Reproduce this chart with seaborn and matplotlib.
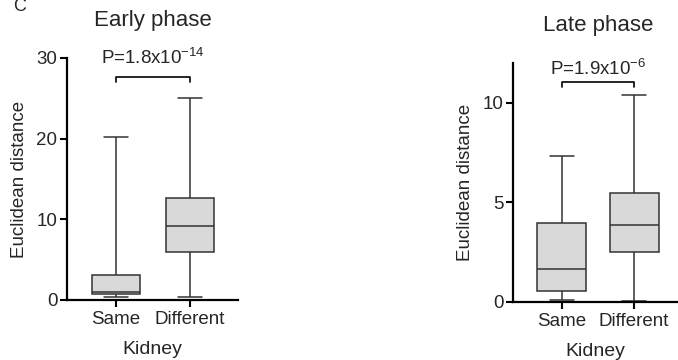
import matplotlib
matplotlib.use("Agg")
import matplotlib.pyplot as plt
import seaborn as sns
import pandas as pd

# Five-number summaries: [min, Q1, median, Q3, max]
groups = ["Same", "Different"]
early_same = [0.33, 0.7, 1.0, 3.1, 20.2]
early_diff = [0.4, 6.0, 9.2, 12.7, 25.1]
late_same = [0.1, 0.57, 1.64, 3.98, 7.32]
late_diff = [0.03, 2.49, 3.86, 5.48, 10.37]
early_ticks = [0, 10, 20, 30]
late_ticks = [0, 5, 10]
titles = ["Early phase", "Late phase"]
pvals = [r"P=1.8x10$^{\mathregular{-14}}$", r"P=1.9x10$^{\mathregular{-6}}$"]

sns.set_style("ticks")
plt.rcParams["font.family"] = ["Liberation Sans", "DejaVu Sans"]
plt.rcParams["mathtext.fontset"] = "custom"
plt.rcParams["mathtext.rm"] = "Liberation Sans"

fig = plt.figure(figsize=(6.78, 3.6), dpi=100)
ax1 = fig.add_axes([67 / 678, 60 / 360, 171 / 678, 242 / 360])
ax2 = fig.add_axes([513 / 678, 58 / 360, 165 / 678, 239 / 360])

def make_df(a, b):
    return pd.DataFrame({"Kidney": [groups[0]] * len(a) + [groups[1]] * len(b),
                         "value": list(a) + list(b)})

specs = [
    (ax1, make_df(early_same, early_diff), (0, 30), early_ticks, (-0.66, 1.65), 0.65,
     27.7, 27.0, 29.2, 34.0),
    (ax2, make_df(late_same, late_diff), (0, 12), late_ticks, (-0.68, 1.61), 0.68,
     11.05, 10.77, 11.4, 13.6),
]

edge = "#333333"
for i, (ax, df, ylim, yt, xlim, w, yb, yl, yp, yt_title) in enumerate(specs):
    sns.boxplot(data=df, x="Kidney", y="value", ax=ax, whis=(0, 100), width=w,
                color="#d9d9d9", saturation=1, fliersize=0,
                linecolor=edge, linewidth=1.1,
                capwidths=w / 2)
    ax.set_ylim(*ylim)
    ax.set_xlim(*xlim)
    ax.set_yticks(yt)
    ax.set_ylabel("Euclidean distance", fontsize=13.5, labelpad=6)
    ax.set_xlabel("Kidney", fontsize=14, labelpad=9)
    ax.tick_params(axis="both", labelsize=13.5, length=5, width=1.5, color="black", pad=2)
    ax.tick_params(axis="x", pad=3)
    sns.despine(ax=ax)
    for s in ["left", "bottom"]:
        ax.spines[s].set_linewidth(1.6)
        ax.spines[s].set_color("black")
    # significance bracket
    ax.plot([0, 0, 1, 1], [yl, yb, yb, yl], color="black", lw=1.2, clip_on=False)
    ax.text(0.5, yp, pvals[i], ha="center", va="baseline", fontsize=13.5, clip_on=False)
    ax.text(0.5, yt_title, titles[i], ha="center", va="baseline", fontsize=16, clip_on=False)

fig.text(13 / 678, 1 - 11 / 360, "C", fontsize=13, va="baseline", ha="left")

fig.savefig("out.png", dpi=100)
